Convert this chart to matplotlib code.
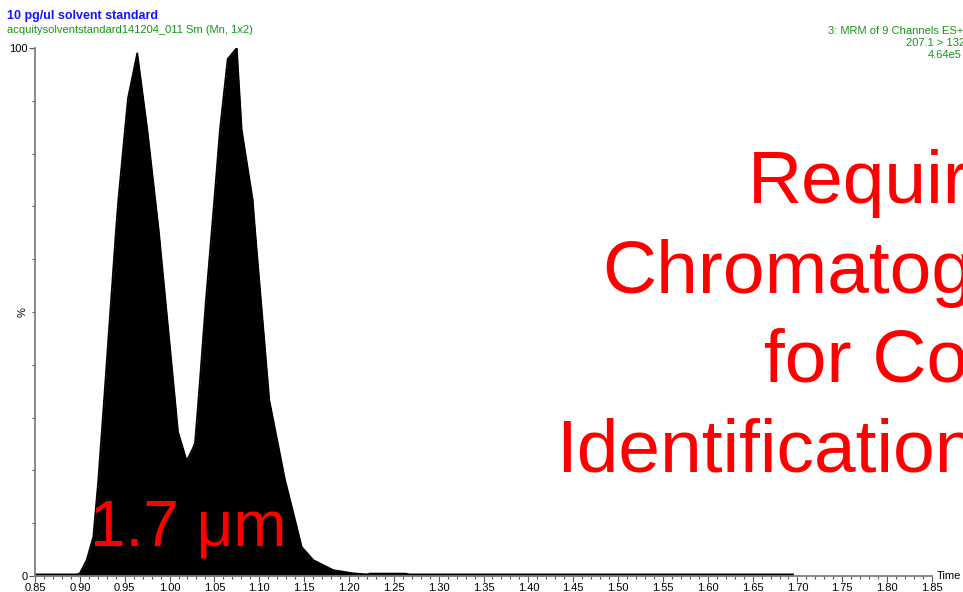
import numpy as np
import matplotlib
matplotlib.use("Agg")
import matplotlib.pyplot as plt
from matplotlib.ticker import MultipleLocator, FormatStrFormatter

# chromatogram trace (time in min, relative intensity in %)
time = [0.850, 0.897, 0.900, 0.9076, 0.915, 0.9206, 0.927, 0.9403, 0.9429, 0.9503,
        0.9537, 0.964, 0.9752, 0.9879, 1.0061, 1.0094, 1.0191, 1.0261, 1.0284, 1.0330,
        1.0406, 1.0499, 1.0562, 1.0648, 1.0749, 1.0804, 1.0927, 1.0953, 1.1112, 1.1287,
        1.1380, 1.1473, 1.1603, 1.1826, 1.2048, 1.2200, 1.2235, 1.2625, 1.2680, 1.695]
intensity = [0.3, 0.3, 0.5, 3.0, 7.4, 18.2, 33.3, 65.5, 71.2, 84.5,
             90.5, 99.0, 84.5, 65.5, 33.3, 27.3, 21.8, 24.2, 25.2, 35.0,
             52.3, 71.2, 84.5, 97.9, 100.0, 84.5, 71.2, 65.5, 33.3, 18.2,
             11.9, 5.5, 3.0, 1.1, 0.5, 0.3, 0.45, 0.45, 0.3, 0.3]

title = "10 pg/ul solvent standard"
subtitle = "acquitysolventstandard141204_011 Sm (Mn, 1x2)"
channel_info = ["3: MRM of 9 Channels ES+", "207.1 > 132.1", "4.64e5"]
big_lines = ["Required", "Chromatography", "for Confident", "Identification"]
particle = "1.7 \u03bcm"

plt.rcParams["font.family"] = ["Liberation Sans", "DejaVu Sans"]
W, H = 963, 592
fig = plt.figure(figsize=(W/100, H/100), dpi=100)
ax = fig.add_axes([35/W, 16/H, 897/W, 528/H])

ax.fill_between(time, intensity, 0, color="black", lw=0)
ax.plot(time, intensity, color="black", lw=1.3)

ax.set_xlim(0.85, 1.85); ax.set_ylim(0, 100)
for s in ("top", "right"):
    ax.spines[s].set_visible(False)
for s in ("left", "bottom"):
    ax.spines[s].set_color("#808080"); ax.spines[s].set_linewidth(1.3)
ax.xaxis.set_major_locator(MultipleLocator(0.05))
ax.xaxis.set_minor_locator(MultipleLocator(0.01))
ax.xaxis.set_major_formatter(FormatStrFormatter("%.2f"))
ax.set_yticks([0, 100])
ax.yaxis.set_minor_locator(MultipleLocator(10))
ax.tick_params(axis="x", which="major", length=4, width=0.8, color="#555555", labelsize=8, pad=1)
ax.tick_params(axis="x", which="minor", length=2, width=0.8, color="#555555")
ax.tick_params(axis="y", which="major", length=4, width=0.8, color="#555555", labelsize=8, pad=1)
ax.tick_params(axis="y", which="minor", length=2, width=0.8, color="#555555")
ax.text(-0.014, 50, "%", transform=ax.get_yaxis_transform(), rotation=90,
        ha="center", va="center", fontsize=8)
fig.text(937/W, 1-576/H, "Time", fontsize=8, ha="left", va="center")

def px(x, y):
    return x/W, 1-y/H

fig.text(*px(7, 16), title, color="#1414ff", fontsize=9, fontweight="bold", va="center")
fig.text(*px(7, 30), subtitle, color="#149614", fontsize=8, va="center")
for (x0, y0), t in zip([(828, 31), (906, 43.5), (928, 55)], channel_info):
    fig.text(*px(x0, y0), t, color="#149614", fontsize=8, va="center")

for (x0, yb), t in zip([(748, 203), (602, 292.5), (764, 381.5), (556, 471.5)], big_lines):
    fig.text(*px(x0, yb), t, color="#ff0000", fontsize=54, va="baseline")
fig.text(*px(90, 546), particle, color="#ff0000", fontsize=46, va="baseline")

fig.savefig("out.png", dpi=100)
